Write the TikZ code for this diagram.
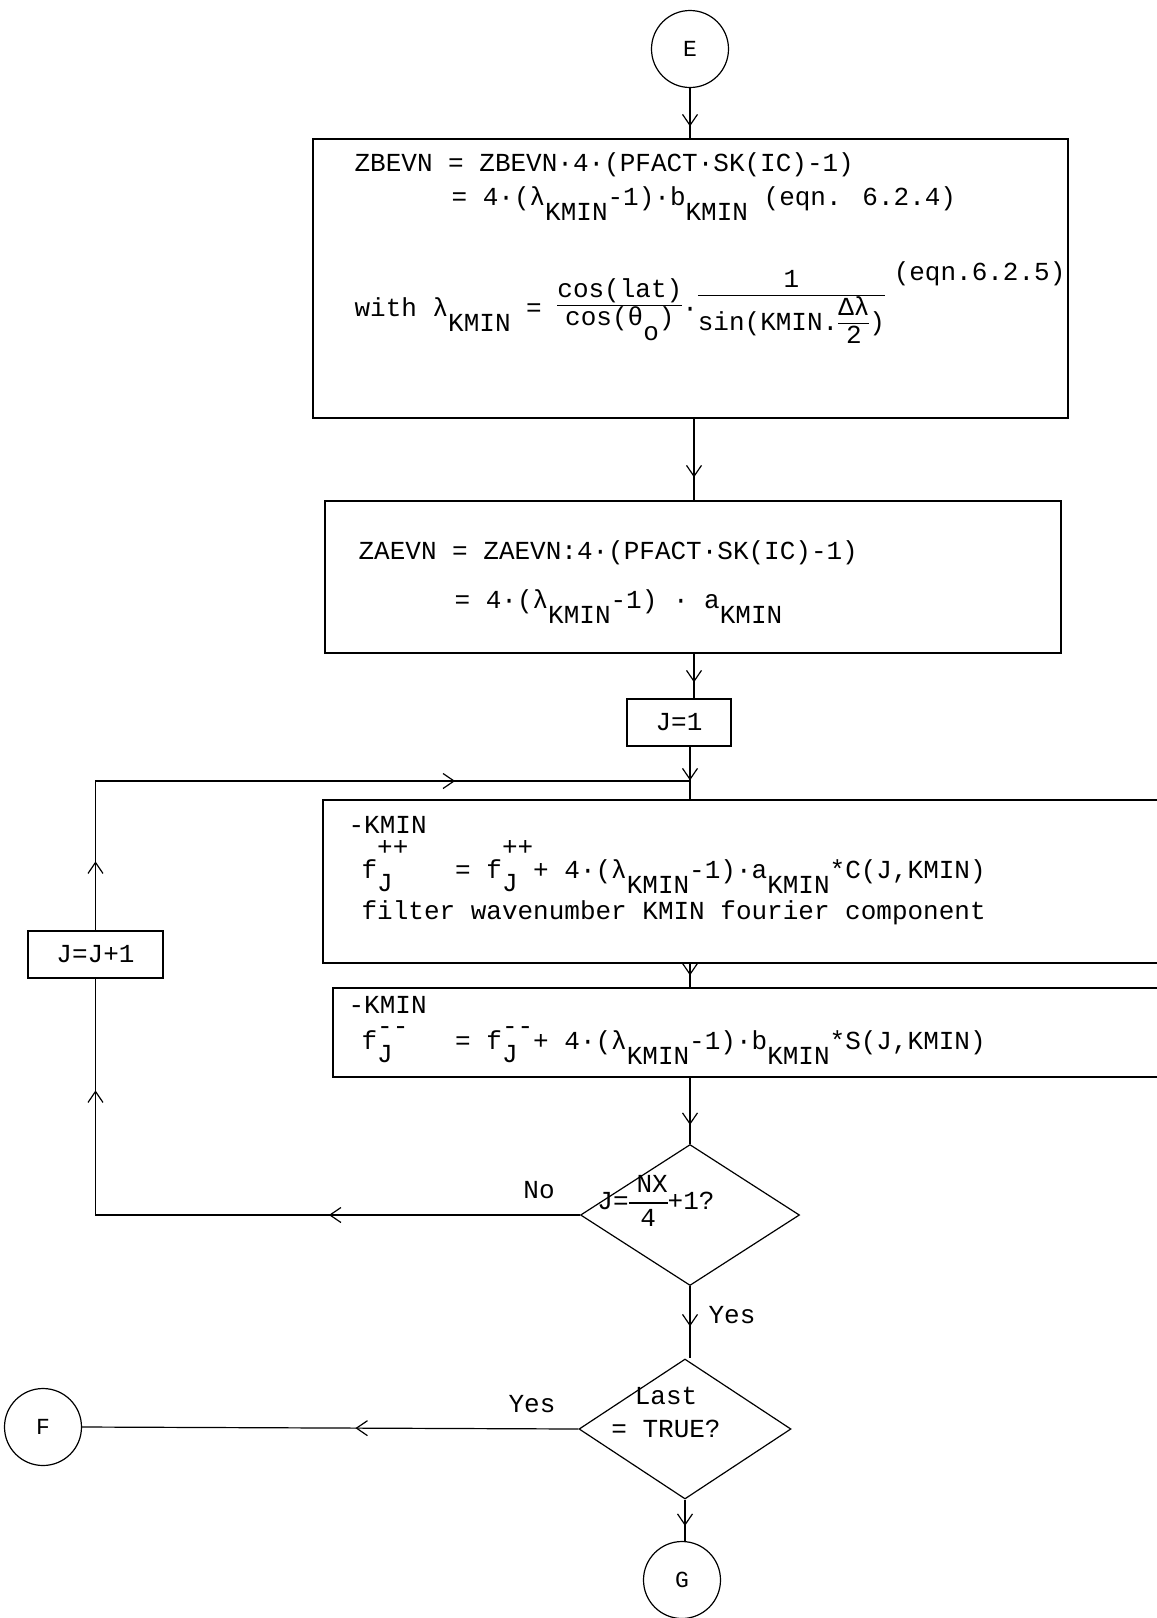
\documentclass[tikz,border=0pt]{standalone}
\usepackage{fontspec}
\setmainfont{Liberation Mono}
\usetikzlibrary{arrows.meta,shapes.geometric,decorations.markings}
\setlength\arrayrulewidth{1.1pt}
\newcommand\dn[1]{\raisebox{-0.6em}{#1}}
\newcommand\fr[3][0.9]{{\renewcommand\arraystretch{#1}\begin{tabular}[c]{@{}c@{}}#2\\\hline #3\end{tabular}}}
\newcommand\fsup[2]{f\makebox[0pt][l]{\raisebox{#2}{#1}}\makebox[1.2em][l]{\raisebox{-0.5em}{J}}}
\tikzset{
  >={Straight Barb[length=11pt,width=15pt]},
  box/.style={draw, rectangle, inner sep=0pt},
  circ/.style={draw, circle, inner sep=0pt, minimum size=77pt, font=\fontsize{23}{26}\selectfont},
  dia/.style={draw, diamond, inner sep=0pt},
  txt/.style={inner sep=0pt, anchor=base west},
  lbl/.style={inner sep=0pt},
  markat/.style={decoration={markings, mark=at position #1 with {\arrow{>}}}, postaction={decorate}},
  markatt/.style 2 args={decoration={markings, mark=at position #1 with {\arrow{>}}, mark=at position #2 with {\arrow{>}}}, postaction={decorate}},
}
\begin{document}
\begin{tikzpicture}[x=1pt, y=-1pt, line width=1.2pt,
  every node/.append style={font=\fontsize{26}{30}\selectfont}]
\useasboundingbox (0,0) rectangle (1157,1618);
\clip (0,0) rectangle (1157,1618);

% nodes
\node[circ] (E) at (690,49) {E};
\node[box, minimum width=755, minimum height=279] (b1) at (690.5,278.5) {};
\node[box, minimum width=736, minimum height=152] (b2) at (693,577) {};
\node[box, minimum width=104, minimum height=47] (j1) at (679,722.5) {J=1};
\coordinate (ax) at (694,0);
\coordinate (m) at (690,781);
\node[box, minimum width=900, minimum height=163] (b3) at (773,881.5) {};
\node[box, minimum width=890, minimum height=89] (b4) at (778,1032.5) {};
\node[dia, minimum width=219, minimum height=141] (d1) at (690,1215) {};
\node[dia, minimum width=212, minimum height=140] (d2) at (685,1429) {};
\node[circ] (G) at (682,1580) {G};
\node[circ] (F) at (43,1427) {F};
\node[box, minimum width=135, minimum height=47] (jj) at (95.5,954.5) {J=J+1};

% box texts
\node[txt] (t11) at (354,171) {ZBEVN = ZBEVN·4·(PFACT·SK(IC)-1)};
\node[txt] (t12) at (451,205) {= 4·(λ\dn{KMIN}-1)·b\dn{KMIN} (eqn. 6.2.4)};
\node[txt] (t13) at (354,316) {with λ\dn{KMIN} = \fr{cos(lat)}{cos(θ\dn{o})}·\fr{1}{sin(KMIN.\fr{Δλ}{2})}};
\node[inner sep=0pt, anchor=base east] (t14) at (1066,280) {(eqn.6.2.5)};

\node[txt] (t21) at (358,559) {ZAEVN = ZAEVN:4·(PFACT·SK(IC)-1)};
\node[txt] (t22) at (454,608) {= 4·(λ\dn{KMIN}-1) · a\dn{KMIN}};

\node[txt] (t31) at (348,833) {-KMIN};
\node[txt] (t32) at (361,878) {\fsup{++}{0.85em}\ \ \ = \fsup{++}{0.85em}+ 4·(λ\dn{KMIN}-1)·a\dn{KMIN}*C(J,KMIN)};
\node[txt] (t33) at (361,919) {filter wavenumber KMIN fourier component};

\node[txt] (t4) at (361,1013) {\begin{tabular}[t]{@{}l@{}}\hspace*{-13pt}-KMIN\\[5pt]
  \fsup{-{}-}{0.55em}\ \ \ = \fsup{-{}-}{0.55em}+ 4·(λ\dn{KMIN}-1)·b\dn{KMIN}*S(J,KMIN)\end{tabular}};

% diamond texts and labels
\node[lbl] (d1t) at (656,1203) {J=\fr[1.1]{\hspace{0.3em}NX\hspace{0.3em}}{4}+1?};
\node[lbl, align=center, font=\fontsize{26}{33}\selectfont] (d2t) at (666,1412) {Last\\= TRUE?};
\node[lbl] (no) at (539,1190) {No};
\node[lbl] (yes1) at (732,1315) {Yes};
\node[lbl] (yes2) at (532,1404) {Yes};

% connectors
\draw[markat=-12pt] (E.south) -- (E.south |- b1.north);
\draw[markat=-23pt] (b1.south -| ax) -- (b2.north -| ax);
\draw[markat=-16pt] (b2.south -| ax) -- (j1.north -| ax);
\draw[markat=-19pt] (j1.south -| m) -- (b3.north -| m);
\draw[markat=-12pt] (b3.south -| m) -- (b4.north -| m);
\draw[markat=-19pt] (b4.south -| d1.north) -- (d1.north);
\draw[markat=-32pt] (d1.south) -- (d1.south |- d2.north);
\draw[markat=-15pt] (d2.south) -- (d2.south |- G.north);
\draw[markatt={251pt}{609pt}] (d1.west) -| (jj.south);
\draw[markatt={69pt}{509pt}] (jj.north) |- (m);
\draw[markat=223pt] (d2.west) -- (F.east);
\end{tikzpicture}
\end{document}
